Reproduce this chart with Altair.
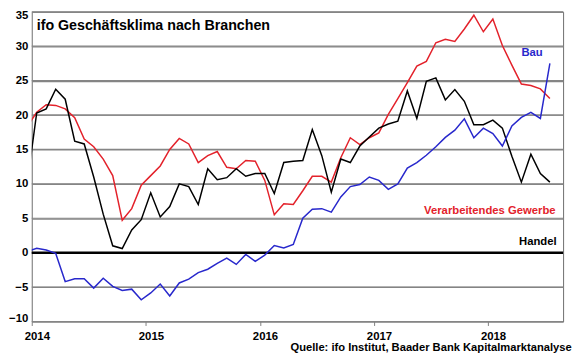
import altair as alt
import pandas as pd

# Monthly data, Dec 2013 (clipped at the left edge) to Jul 2018
months = pd.date_range("2013-12-01", "2018-07-01", freq="MS").strftime("%Y-%m").tolist()

verarbeitendes_gewerbe = [
    18.3, 20.4, 21.5, 21.4, 20.9, 19.6, 16.5, 15.4, 13.6, 11.2, 4.7, 6.4, 9.8,
    11.2, 12.6, 15.0, 16.6, 15.8, 13.1, 14.1, 14.7, 12.4, 12.2, 13.4, 13.3,
    10.5, 5.5, 7.1, 7.0, 9.0, 11.1, 11.1, 10.25, 13.8, 16.7, 15.7, 16.7,
    17.4, 20.1, 22.4, 24.7, 27.1, 27.8, 30.5, 31.0, 30.7, 32.5, 34.5, 32.1,
    33.95, 30.1, 27.25, 24.5, 24.3, 23.8, 22.4,
]
handel = [
    10.1, 20.3, 20.9, 23.75, 22.3, 16.2, 15.8, 11.0, 5.6, 1.0, 0.6, 3.3, 4.8,
    8.7, 5.2, 6.7, 10.0, 9.6, 7.0, 12.2, 10.6, 10.9, 12.2, 11.1, 11.5,
    11.5, 8.6, 13.1, 13.3, 13.4, 17.9, 14.1, 8.8, 13.6, 13.1, 15.5, 16.8,
    18.1, 18.7, 19.1, 23.5, 19.5, 24.9, 25.4, 22.2, 23.7, 22.0, 18.6, 18.6,
    19.25, 18.1, 14.0, 10.25, 14.3, 11.5, 10.25,
]
bau = [
    0.17, 0.65, 0.4, -0.1, -4.2, -3.8, -3.8, -5.15, -3.7, -4.9, -5.5, -5.3, -6.85,
    -5.85, -4.55, -6.3, -4.4, -3.85, -2.9, -2.4, -1.55, -0.8, -1.7, -0.25, -1.25,
    -0.35, 1.05, 0.7, 1.2, 5.0, 6.3, 6.4, 5.9, 8.1, 9.6, 9.9, 11.0,
    10.5, 9.2, 10.0, 12.3, 13.1, 14.15, 15.4, 16.75, 17.8, 19.45, 16.7, 18.1,
    17.3, 15.5, 18.4, 19.65, 20.4, 19.5, 27.5,
]
series_names = ["Verarbeitendes Gewerbe", "Handel", "Bau"]
series_colors = ["#e3222b", "#000000", "#2828cc"]
years = ["2014", "2015", "2016", "2017", "2018"]
y_ticks = [-10, -5, 0, 5, 10, 15, 20, 25, 30, 35]
title_text = "ifo Geschäftsklima nach Branchen"
source_text = "Quelle: ifo Institut, Baader Bank Kapitalmarktanalyse"

rows = []
for name, vals in zip(series_names, [verarbeitendes_gewerbe, handel, bau]):
    for k, (mon, v) in enumerate(zip(months, vals)):
        rows.append({"series": name, "month": mon, "m": k - 1, "value": v})
df = pd.DataFrame(rows)
grid_df = pd.DataFrame({"level": y_ticks})
zero_df = pd.DataFrame({"level": [0]})

FONT = "Liberation Sans"
GRID = "#858585"

x_axis = alt.Axis(
    values=[-0.5, 11.5, 23.5, 35.5, 47.5],
    labelExpr=f"{years}[round((datum.value + 0.5) / 12)]",
    labelOffset=5,
    labelFlush=False,
    labelOverlap=False,
    grid=False,
    domain=False,
    ticks=True,
    tickSize=4,
    tickColor="#808080",
    labelPadding=5,
    labelFontSize=11.5,
    labelFontWeight="bold",
    labelColor="#000000",
    labelFont=FONT,
    title=None,
)
x_scale = alt.Scale(domain=[-0.52, 55.39], nice=False, zero=False)
y_scale = alt.Scale(domain=[-10, 35], nice=False, zero=False)
y_axis = alt.Axis(
    values=y_ticks,
    grid=True,
    gridColor=GRID,
    gridWidth=1.2,
    gridOpacity=1,
    domain=False,
    ticks=False,
    tickSize=0,
    labelPadding=4,
    labelFlush=True,
    labelFlushOffset=2,
    labelOverlap=False,
    labelFontSize=11.5,
    labelFontWeight="bold",
    labelColor="#000000",
    labelFont=FONT,
    title=None,
)

grid_rules = (
    alt.Chart(grid_df)
    .mark_rule(color=GRID, strokeWidth=1.2, opacity=1)
    .encode(
        y=alt.Y("level:Q", scale=y_scale, axis=None),
        x=alt.value(0),
        x2=alt.value(537),
    )
)
zero_rule = (
    alt.Chart(zero_df)
    .mark_rule(color="#000000", strokeWidth=2.5)
    .encode(y=alt.Y("level:Q", scale=y_scale, axis=None))
)

base = alt.Chart(df)
line_layers = []
for j, (name, col) in enumerate(zip(series_names, series_colors)):
    line_layers.append(
        base.transform_filter(alt.datum.series == name)
        .mark_line(color=col, strokeWidth=1.5, clip=True)
        .encode(
            x=alt.X("m:Q", scale=x_scale, axis=x_axis if j == 0 else None),
            y=alt.Y("value:Q", scale=y_scale, axis=y_axis if j == 0 else None),
        )
    )


def label(text, px, py, color, size, align="right", weight="bold"):
    return (
        alt.Chart(pd.DataFrame({"t": [text]}))
        .mark_text(
            align=align, baseline="alphabetic", color=color, fontSize=size,
            fontWeight=weight, font=FONT,
        )
        .encode(text="t:N", x=alt.value(px), y=alt.value(py))
    )


texts = [
    label(title_text, 5, 18.3, "#000000", 14.4, align="left"),
    label("Bau", 516.4, 45, series_colors[2], 11.4),
    label("Verarbeitendes Gewerbe", 529.4, 204, series_colors[0], 11.4),
    label("Handel", 530.4, 236, "#000000", 11.4),
    label(source_text, 545.7, 342.5, "#000000", 11.3),
]

chart = (
    alt.layer(grid_rules, zero_rule, *line_layers, *texts)
    .resolve_axis(y="independent", x="independent")
    .properties(width=537, height=313, padding=0, background="#ffffff")
    .configure_view(stroke="#6e6e6e", strokeWidth=1)
)

chart.save("out.html", embed_options={"renderer": "svg", "actions": False})
